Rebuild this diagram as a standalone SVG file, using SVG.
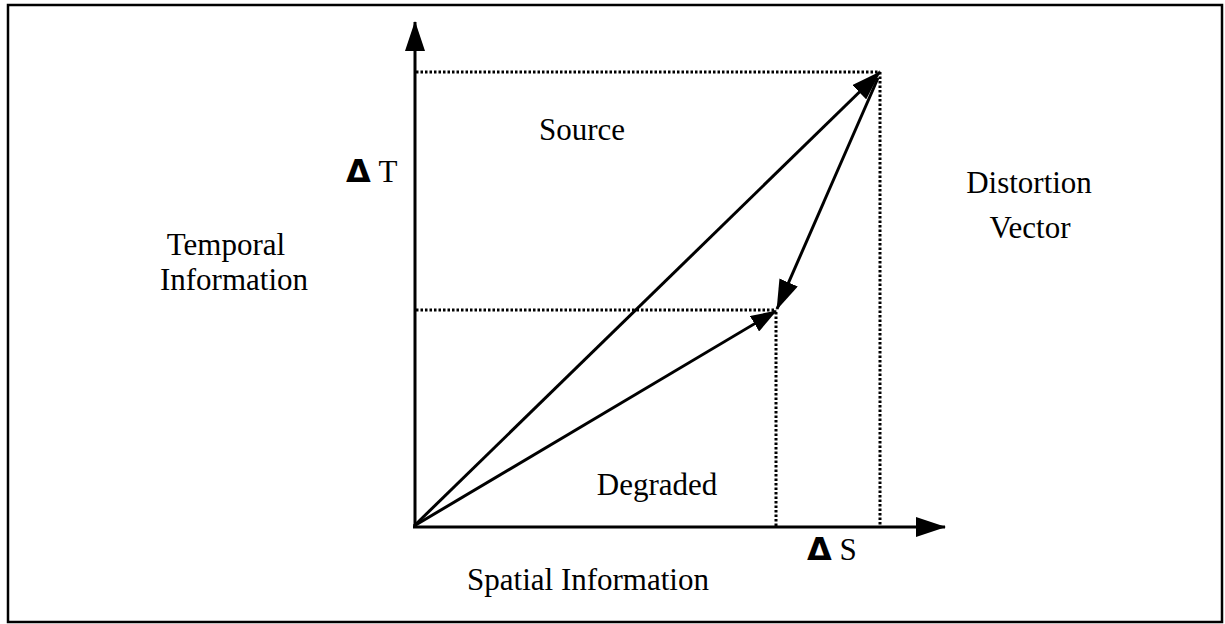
<svg xmlns="http://www.w3.org/2000/svg" width="1225" height="624" viewBox="0 0 1225 624">
<style>
.t{font-family:"Liberation Serif","Times New Roman",serif;font-size:31px;fill:#000}
.d{font-family:"DejaVu Sans","Liberation Sans",sans-serif;font-weight:bold;font-size:32px}
.ax{stroke:#000;stroke-width:3;fill:none}
.vec{stroke:#000;stroke-width:3;fill:none}
.dot{stroke:#000;stroke-width:3;stroke-dasharray:2.5 2;fill:none}
</style>
<defs>
<marker id="ah" markerUnits="userSpaceOnUse" viewBox="0 0 30 20" refX="29" refY="10" markerWidth="30" markerHeight="20" orient="auto">
<path d="M0,0 L30,10 L0,20 z" fill="#000"/>
</marker>
<marker id="ahs" markerUnits="userSpaceOnUse" viewBox="0 0 26 18" refX="25" refY="9" markerWidth="26" markerHeight="18" orient="auto">
<path d="M0,0 L26,9 L0,18 z" fill="#000"/>
</marker>
</defs>
<rect x="8" y="5" width="1214" height="617" fill="#fff" stroke="#000" stroke-width="2.5"/>
<g id="guides">
<path class="dot" d="M416,72 H880"/>
<path class="dot" d="M880,72 V526"/>
<path class="dot" d="M416,310 H776"/>
<path class="dot" d="M776,312 V526"/>
</g>
<g id="axes">
<line id="y-axis" class="ax" x1="415" y1="528" x2="415" y2="22" marker-end="url(#ah)"/>
<line id="x-axis" class="ax" x1="413" y1="527" x2="945" y2="527" marker-end="url(#ah)"/>
</g>
<g id="connectors">
<line id="source-vector" class="vec" x1="414" y1="526" x2="880" y2="72" marker-end="url(#ah)"/>
<line id="degraded-vector" class="vec" x1="414" y1="526" x2="776" y2="311" marker-end="url(#ahs)"/>
<line id="distortion-vector" class="vec" stroke-width="4.5" x1="878" y1="78" x2="777" y2="309" marker-end="url(#ah)"/>
</g>
<g id="labels">
<text class="t" x="582" y="140" text-anchor="middle">Source</text>
<text class="t" x="657" y="495" text-anchor="middle">Degraded</text>
<text class="t" x="346" y="182"><tspan class="d">Δ</tspan> T</text>
<text class="t" x="807" y="560"><tspan class="d">Δ</tspan> S</text>
<text class="t" x="226" y="255" text-anchor="middle">Temporal</text>
<text class="t" x="234" y="290" text-anchor="middle">Information</text>
<text class="t" x="1029" y="193" text-anchor="middle">Distortion</text>
<text class="t" x="1030" y="238" text-anchor="middle">Vector</text>
<text class="t" x="588" y="590" text-anchor="middle">Spatial Information</text>
</g>
</svg>
